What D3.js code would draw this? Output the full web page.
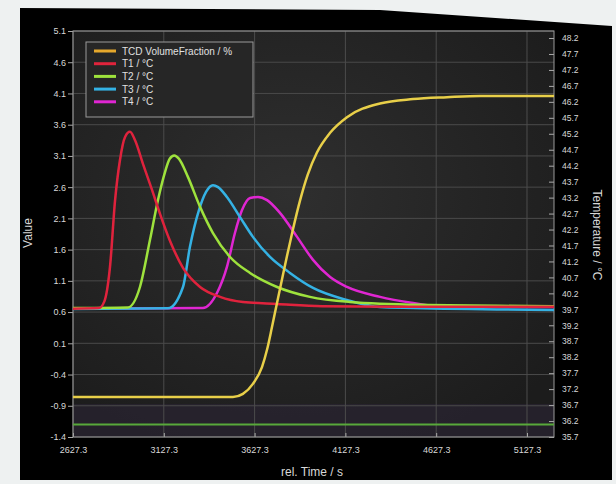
<!DOCTYPE html>
<html>
<script src="https://d3js.org/d3.v7.min.js"></script>
<style>
  body { margin:0; background:#eef1f1; }
  text { font-family:"Liberation Sans", Arial, sans-serif; }
</style>
<body>
<svg width=616 height=484></svg>
<script>
// time axis (s)
const xTicks = [2627.3, 3127.3, 3627.3, 4127.3, 4627.3, 5127.3];
const valueTicks = [-1.4, -0.9, -0.4, 0.1, 0.6, 1.1, 1.6, 2.1, 2.6, 3.1, 3.6, 4.1, 4.6, 5.1];
const tempTicks = [35.7, 36.2, 36.7, 37.2, 37.7, 38.2, 38.7, 39.2, 39.7, 40.2, 40.7, 41.2, 41.7,
                   42.2, 42.7, 43.2, 43.7, 44.2, 44.7, 45.2, 45.7, 46.2, 46.7, 47.2, 47.7, 48.2];

// TCD volume fraction, left axis
const tcdT = [2627, 3508, 3563, 3618, 3668, 3696, 3723, 3751, 3778, 3806, 3839, 3877, 3920, 3970, 4043, 4136, 4318, 4500, 4687, 4869, 5276];
const tcdV = [-0.76, -0.76, -0.71, -0.55, -0.28, 0.00, 0.36, 0.75, 1.12, 1.50, 1.93, 2.38, 2.80, 3.15, 3.47, 3.72, 3.94, 4.01, 4.04, 4.06, 4.06];

// temperatures, right axis
const t1T = [2627, 2770, 2800, 2831, 2859, 2886, 2914, 2941, 2969, 3013, 3062, 3106, 3161, 3233, 3327, 3437, 3563, 3751, 4000, 4500, 5276];
const t1V = [39.72, 39.74, 39.95, 41.03, 43.12, 44.38, 45.10, 45.26, 45.00, 44.25, 43.45, 42.70, 41.85, 41.00, 40.40, 40.09, 39.93, 39.87, 39.80, 39.78, 39.78];

const t2T = [2627, 2930, 2996, 3051, 3095, 3134, 3160, 3185, 3210, 3260, 3327, 3398, 3492, 3602, 3751, 3932, 4153, 4538, 5276];
const t2V = [39.74, 39.76, 40.40, 41.87, 43.12, 44.00, 44.42, 44.52, 44.42, 43.85, 42.91, 42.09, 41.34, 40.84, 40.40, 40.09, 39.93, 39.84, 39.80];

const t3T = [2627, 3150, 3233, 3271, 3321, 3360, 3398, 3426, 3475, 3547, 3618, 3712, 3822, 3949, 4136, 4318, 4500, 5276];
const t3V = [39.71, 39.73, 40.40, 41.65, 42.81, 43.38, 43.59, 43.53, 43.22, 42.59, 41.97, 41.34, 40.84, 40.37, 39.99, 39.77, 39.74, 39.68];

const t4T = [2627, 3343, 3420, 3475, 3519, 3558, 3602, 3646, 3696, 3767, 3861, 3949, 4043, 4136, 4318, 4500, 4687, 5276];
const t4V = [39.72, 39.74, 40.21, 41.03, 42.09, 42.81, 43.19, 43.22, 43.12, 42.72, 41.97, 41.25, 40.71, 40.40, 40.09, 39.90, 39.77, 39.77];

// flat trace near the bottom (no legend entry visible)
const lowT = [2627, 5276];
const lowV = [36.09, 36.09];

const legendNames = ["TCD VolumeFraction / %", "T1 / °C", "T2 / °C", "T3 / °C", "T4 / °C"];
const colors = ["#e8cf48", "#e0243c", "#9ee23c", "#34b2e4", "#e026d2"];

const svg = d3.select("svg");
const pLeft = 73, pRight = 554, pTop = 31, pBottom = 437;

// photo-ish frame
svg.append("polygon")
    .attr("points", "20,8 380,10 612,26 612,480 20,480")
    .attr("fill", "#000");

const defs = svg.append("defs");
const grad = defs.append("radialGradient").attr("id", "bg")
    .attr("cx", "45%").attr("cy", "40%").attr("r", "70%");
grad.append("stop").attr("offset", "0%").attr("stop-color", "#2f2f2f");
grad.append("stop").attr("offset", "100%").attr("stop-color", "#1c1c1c");
const glow = defs.append("filter").attr("id", "glow");
glow.append("feGaussianBlur").attr("stdDeviation", 0.6);

svg.append("rect")
    .attr("x", pLeft).attr("y", pTop)
    .attr("width", pRight - pLeft).attr("height", pBottom - pTop)
    .attr("fill", "url(#bg)");
svg.append("rect")
    .attr("x", pLeft).attr("y", 404)
    .attr("width", pRight - pLeft).attr("height", pBottom - 404)
    .attr("fill", "#2b2536").attr("opacity", 0.6);

const x = d3.scaleLinear().domain([2627.3, 5276]).range([pLeft, pRight]);
const yL = d3.scaleLinear().domain([-1.4, 5.1]).range([pBottom, pTop]);
const yR = d3.scaleLinear().domain([35.7, 48.42]).range([pBottom, pTop]);

// grid
svg.append("g").selectAll("line").data(valueTicks).enter().append("line")
    .attr("x1", pLeft).attr("x2", pRight)
    .attr("y1", d => yL(d)).attr("y2", d => yL(d))
    .attr("stroke", "#4a4a4a").attr("stroke-width", 1);
svg.append("g").selectAll("line").data(xTicks).enter().append("line")
    .attr("x1", d => x(d)).attr("x2", d => x(d))
    .attr("y1", pTop).attr("y2", pBottom)
    .attr("stroke", "#4c4c4c").attr("stroke-width", 1);

// axes
const fmt = d => d.toFixed(1);
const gL = svg.append("g").attr("transform", `translate(${pLeft},0)`)
    .call(d3.axisLeft(yL).tickValues(valueTicks).tickFormat(fmt).tickSize(5).tickPadding(2));
const gR = svg.append("g").attr("transform", `translate(${pRight},0)`)
    .call(d3.axisRight(yR).tickValues(tempTicks).tickFormat(fmt).tickSize(-5).tickPadding(8));
const gB = svg.append("g").attr("transform", `translate(0,${pBottom})`)
    .call(d3.axisBottom(x).tickValues(xTicks).tickFormat(fmt).tickSize(-4).tickPadding(10));
[gL, gR, gB].forEach(g => {
    g.select(".domain").remove();
    g.selectAll("line").attr("stroke", "#aaa");
    g.selectAll("text").attr("fill", "#d8d8d8").style("font-size", "9px");
});
gR.selectAll("text").style("font-size", "8.5px");

svg.append("rect")
    .attr("x", pLeft).attr("y", pTop)
    .attr("width", pRight - pLeft).attr("height", pBottom - pTop)
    .attr("fill", "none").attr("stroke", "#9a9a9a");

// lines
const lineL = d3.line().x(d => x(d[0])).y(d => yL(d[1])).curve(d3.curveMonotoneX);
const lineR = d3.line().x(d => x(d[0])).y(d => yR(d[1])).curve(d3.curveMonotoneX);
const zip = (a, b) => a.map((t, i) => [t, b[i]]);

const plot = svg.append("g").attr("filter", "url(#glow)");
plot.append("path").datum(zip(lowT, lowV)).attr("d", lineR)
    .attr("fill", "none").attr("stroke", "#58a83a").attr("stroke-width", 2);
const temps = [[t4T, t4V, 4], [t3T, t3V, 3], [t2T, t2V, 2], [t1T, t1V, 1]];
temps.forEach(([t, v, c]) => {
    plot.append("path").datum(zip(t, v)).attr("d", lineR)
        .attr("fill", "none").attr("stroke", colors[c]).attr("stroke-width", 2.5);
});
plot.append("path").datum(zip(tcdT, tcdV)).attr("d", lineL)
    .attr("fill", "none").attr("stroke", colors[0]).attr("stroke-width", 2.5);

// legend
const lg = svg.append("g");
lg.append("rect").attr("x", 86).attr("y", 42).attr("width", 167).attr("height", 75)
    .attr("fill", "#262626").attr("stroke", "#9a9a9a");
legendNames.forEach((n, i) => {
    const yy = 51 + i * 12.7;
    lg.append("line").attr("x1", 94).attr("x2", 116).attr("y1", yy).attr("y2", yy)
        .attr("stroke", i === 0 ? "#e6a82c" : colors[i]).attr("stroke-width", 3);
    lg.append("text").attr("x", 122).attr("y", yy + 3.5).text(n)
        .attr("fill", "#e0e0e0").style("font-size", "10px");
});

// titles
svg.append("text").attr("transform", "translate(32,233) rotate(-90)")
    .attr("text-anchor", "middle").attr("fill", "#d8d8d8").style("font-size", "12px").text("Value");
svg.append("text").attr("transform", "translate(593,235) rotate(90)")
    .attr("text-anchor", "middle").attr("fill", "#d8d8d8").style("font-size", "12px").text("Temperature / °C");
svg.append("text").attr("x", 312).attr("y", 476)
    .attr("text-anchor", "middle").attr("fill", "#d8d8d8").style("font-size", "12px").text("rel. Time / s");
</script>
</body>
</html>
